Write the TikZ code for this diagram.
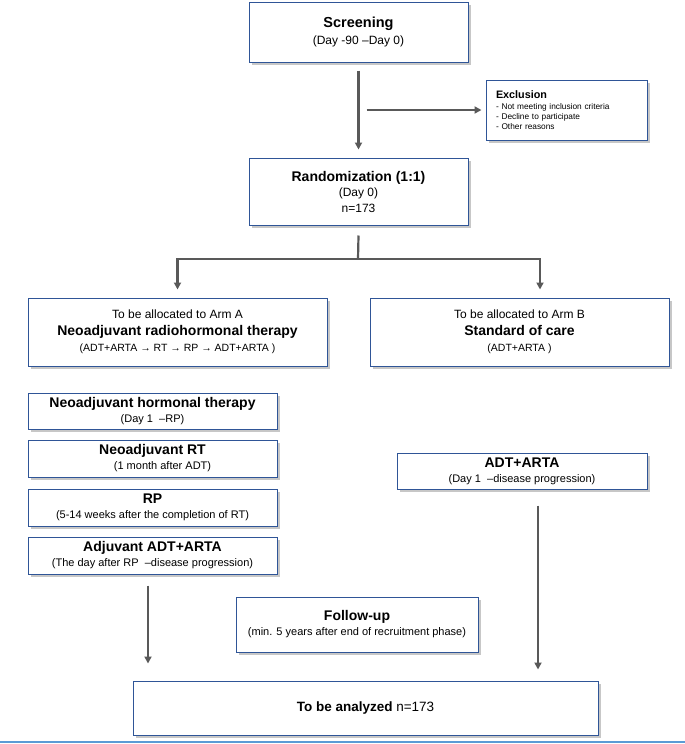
\documentclass[tikz,border=0pt]{standalone}
\usepackage{fontspec}
\setmainfont{Liberation Sans}
\usepackage{tikz}
\usetikzlibrary{shapes,arrows.meta,shadows}

\definecolor{boxblue}{RGB}{47,85,151}
\definecolor{flowgray}{RGB}{89,89,89}
\definecolor{rulebl}{RGB}{91,155,213}

\newcommand{\headtxt}[1]{{\fontsize{14}{16}\selectfont\bfseries #1}}
\newcommand{\subtxt}[1]{{\fontsize{11}{13}\selectfont #1}}
\newcommand{\armsub}[1]{{\fontsize{10.5}{13}\selectfont #1}}
\newcommand{\armtxt}[1]{{\fontsize{12}{14}\selectfont #1}}
\newcommand{\itemtxt}[1]{{\fontsize{8.3}{10}\selectfont #1}}

\begin{document}
\begin{tikzpicture}[x=1pt,y=-1pt,
		box/.style={rectangle,draw=boxblue,line width=1pt,fill=white,align=center,inner sep=0pt,
			font=\fontsize{12}{16.5}\selectfont,
			drop shadow={shadow xshift=2.5pt,shadow yshift=-2.5pt,fill=black!40,opacity=.55}},
		slim/.style={box,font=\fontsize{12}{15}\selectfont},
		flow/.style={draw=flowgray,line width=2.2pt,-{Triangle[length=7pt,width=7pt]}},
		link/.style={draw=flowgray,line width=2.2pt}]
	
		\useasboundingbox (0,0) rectangle (685,744);
	
		\node[box,minimum width=219pt,minimum height=60pt] (screen) at (358.5,32)
			{{\fontsize{14.5}{18}\selectfont\bfseries Screening}\\\armtxt{(Day -90 –Day 0)}};
		\node[box,minimum width=161pt,minimum height=60pt,align=left,text width=141pt,
			font=\fontsize{8.3}{10.2}\selectfont] (excl) at (566.5,110)
			{{\fontsize{10.8}{13}\selectfont\bfseries Exclusion}\\[1pt]
			\itemtxt{- Not meeting inclusion criteria}\\\itemtxt{- Decline to participate}\\\itemtxt{- Other reasons}};
		\node[box,minimum width=219pt,minimum height=67pt,font=\fontsize{12}{15.5}\selectfont] (rand) at (358.5,191.5)
			{\headtxt{Randomization (1:1)}\\\armtxt{(Day 0)}\\\armtxt{n=173}};
		
		\node[box,minimum width=299pt,minimum height=68pt] (armA) at (177.5,332)
			{\armtxt{To be allocated to Arm A}\\\headtxt{Neoadjuvant radiohormonal therapy}\\
			\armsub{(ADT+ARTA → RT → RP → ADT+ARTA )}};
		\node[box,minimum width=299pt,minimum height=68pt] (armB) at (519.5,332)
			{\armtxt{To be allocated to Arm B}\\\headtxt{Standard of care}\\
			\armsub{(ADT+ARTA )}};
		
		\node[slim,minimum width=249pt,minimum height=36pt] (hormo) at (152.5,411)
			{\headtxt{Neoadjuvant hormonal therapy}\\\subtxt{(Day 1\ \ –RP)}};
		\node[slim,minimum width=249pt,minimum height=37pt] (nrt) at (152.5,458.5)
			{\headtxt{Neoadjuvant RT}\\\subtxt{\hspace*{20pt}(1 month after ADT)}};
		\node[slim,minimum width=249pt,minimum height=37pt] (rp) at (152.5,507.5)
			{\headtxt{RP}\\\subtxt{(5-14 weeks after the completion of RT)}};
		\node[slim,minimum width=249pt,minimum height=37pt] (adj) at (152.5,555.5)
			{\headtxt{Adjuvant ADT+ARTA}\\\subtxt{(The day after RP\ \ –disease progression)}};
		\node[slim,minimum width=250pt,minimum height=36pt] (adtarta) at (522,471)
			{\headtxt{ADT+ARTA}\\\subtxt{(Day 1\ \ –disease progression)}};
		
		\node[slim,minimum width=242pt,minimum height=55pt] (follow) at (357,624.5)
			{\headtxt{Follow-up}\\\subtxt{(min. 5 years after end of recruitment phase)}};
		\node[box,minimum width=465pt,minimum height=54pt] (anal) at (365.5,708)
			{{\fontsize{13.5}{16}\selectfont\textbf{To be analyzed} n=173}};
		
		\coordinate (split) at (358,259);
		\coordinate (exclout) at ([xshift=8pt]screen.south |- excl.west);
		\coordinate (armAout) at ([xshift=-4.5pt,yshift=-11pt]adj.south);
		\coordinate (armAin) at (anal.north -| armAout);
		\coordinate (armBout) at ([xshift=16pt,yshift=-16pt]adtarta.south);
		\coordinate (armBin) at (anal.north -| armBout);
		
		\path[flow] ([yshift=-8pt]screen.south) -- ([yshift=8pt]rand.north);
		\path[flow] (exclout) -- ([xshift=-4pt]excl.west);
		\path[link] ([yshift=-10pt]rand.south) -- (split);
		\path[flow] ([xshift=1pt]split) -| ([yshift=8pt]armA.north);
		\path[flow] ([xshift=-1pt]split) -| ([xshift=20.5pt,yshift=8pt]armB.north);
		\path[flow] (armAout) -- ([yshift=17pt]armAin);
		\path[flow] (armBout) -- ([yshift=11pt]armBin);
		
		\draw[rulebl,line width=1.5pt] (0,742) -- (685,742);
		
	\end{tikzpicture}
\end{document}
